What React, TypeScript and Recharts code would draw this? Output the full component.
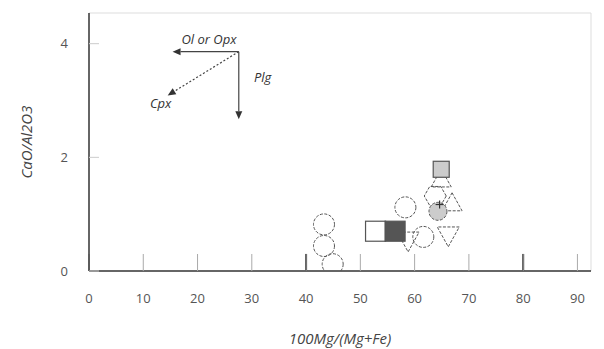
import { ScatterChart, Scatter, XAxis, YAxis, ReferenceLine, ReferenceDot } from 'recharts';

// marker groups: [100Mg/(Mg+Fe), CaO/Al2O3]
const openCircles = [
  { x: 43.3, y: 0.82 },
  { x: 43.3, y: 0.44 },
  { x: 44.9, y: 0.12 },
  { x: 58.3, y: 1.12 },
  { x: 61.6, y: 0.6 },
];
const openSquares = [{ x: 52.8, y: 0.7 }];
const darkSquares = [{ x: 56.4, y: 0.7 }];
const greySquares = [{ x: 64.9, y: 1.79 }];
const greyCircles = [{ x: 64.3, y: 1.05 }];
const openHexagons = [{ x: 63.8, y: 1.32 }];
const upTriangles = [
  { x: 66.9, y: 1.2 },
  { x: 64.9, y: 1.62 },
];
const downTriangles = [
  { x: 58.8, y: 0.53 },
  { x: 66.2, y: 0.62 },
];
const plusMarks = [{ x: 64.6, y: 1.17 }];

const xTicks = [0, 10, 20, 30, 40, 50, 60, 70, 80, 90];
const yTicks = [0, 2, 4];
const X_MAX = 92.5;
const Y_MAX = 4.54;

// vector diagram (origin + ends)
const vecOrigin = { x: 27.6, y: 3.86 };
const vecOlOpx = { x: 15.4, y: 3.86 };
const vecPlg = { x: 27.6, y: 2.67 };
const vecCpx = { x: 14.5, y: 3.09 };

const FONT = '"Open Sans", "Liberation Sans", sans-serif';
const INK = '#555';

const circle = (r: number, fill: string) => (p: any) =>
  <circle cx={p.cx} cy={p.cy} r={r} fill={fill} stroke={INK} strokeWidth={1} strokeDasharray="3 1.5" />;

const square = (s: number, fill: string) => (p: any) =>
  <rect x={p.cx - s / 2} y={p.cy - s / 2} width={s} height={s} fill={fill} stroke={INK} strokeWidth={1.2} />;

const triangle = (s: number, down: boolean) => (p: any) => {
  const d = down ? -1 : 1;
  const pts = `${p.cx},${p.cy - d * s} ${p.cx + s},${p.cy + d * s * 0.8} ${p.cx - s},${p.cy + d * s * 0.8}`;
  return <polygon points={pts} fill="none" stroke={INK} strokeWidth={1} strokeDasharray="3 1.5" />;
};

const hexagon = (p: any) => {
  const r = 11;
  const pts = [0, 1, 2, 3, 4, 5]
    .map((i) => {
      const a = (Math.PI / 3) * i;
      return `${p.cx + r * Math.cos(a)},${p.cy + r * Math.sin(a)}`;
    })
    .join(' ');
  return <polygon points={pts} fill="none" stroke={INK} strokeWidth={1} strokeDasharray="3 1.5" />;
};

const plus = (p: any) => (
  <g stroke="#333" strokeWidth={1.2}>
    <line x1={p.cx - 4} y1={p.cy} x2={p.cx + 4} y2={p.cy} />
    <line x1={p.cx} y1={p.cy - 4} x2={p.cx} y2={p.cy + 4} />
  </g>
);

const arrow = (dashed: boolean) => (p: any) => {
  const { x1, y1, x2, y2 } = p;
  const ang = Math.atan2(y2 - y1, x2 - x1);
  const L = 8;
  const W = 3.5;
  const bx = x2 - L * Math.cos(ang);
  const by = y2 - L * Math.sin(ang);
  const px = -Math.sin(ang) * W;
  const py = Math.cos(ang) * W;
  return (
    <g>
      <line x1={x1} y1={y1} x2={bx} y2={by} stroke="#444" strokeWidth={1.2} strokeDasharray={dashed ? '2 2' : undefined} />
      <polygon points={`${x2},${y2} ${bx + px},${by + py} ${bx - px},${by - py}`} fill="#333" />
    </g>
  );
};

const textLabel = (value: string) => ({
  value,
  position: 'center' as const,
  fill: '#333',
  fontSize: 13,
  fontStyle: 'italic',
  fontFamily: FONT,
});

export default function App() {
  return (
    <div style={{ position: 'absolute', left: 0, top: 0, background: '#fff' }}>
      <ScatterChart width={604} height={349} margin={{ top: 13, right: 13, bottom: 77, left: 88 }}>
        <XAxis
          type="number"
          dataKey="x"
          domain={[0, X_MAX]}
          ticks={xTicks}
          allowDataOverflow
          stroke="#333"
          tickSize={-17}
          tickMargin={40}
          tick={{ fill: '#555', fontSize: 13, fontFamily: FONT }}
          tickLine={{ stroke: '#aaa' }}
          axisLine={{ stroke: '#333', strokeWidth: 1.5 }}
          height={1}
          label={{ value: '100Mg/(Mg+Fe)', position: 'insideBottom', offset: -72, fill: '#444', fontSize: 15, fontStyle: 'italic', fontFamily: FONT }}
        />
        <YAxis
          type="number"
          dataKey="y"
          domain={[0, Y_MAX]}
          ticks={yTicks}
          allowDataOverflow
          tickSize={-10}
          tickMargin={31}
          tick={{ fill: '#555', fontSize: 13, fontFamily: FONT }}
          tickLine={{ stroke: '#ccc' }}
          axisLine={{ stroke: '#333', strokeWidth: 1.5 }}
          width={1}
          label={{ value: 'CaO/Al2O3', angle: -90, position: 'insideLeft', offset: -61, fill: '#444', fontSize: 15, fontStyle: 'italic', fontFamily: FONT, style: { textAnchor: 'middle' } }}
        />
        {/* faint frame */}
        <ReferenceLine y={Y_MAX} stroke="#ddd" />
        <ReferenceLine x={X_MAX} stroke="#ddd" />
        {/* darker ticks */}
        <ReferenceLine segment={[{ x: 40, y: 0 }, { x: 40, y: 0.3 }]} stroke="#222" strokeWidth={2} />
        <ReferenceLine segment={[{ x: 80, y: 0 }, { x: 80, y: 0.3 }]} stroke="#222" strokeWidth={2} />

        {/* vector diagram */}
        <ReferenceLine segment={[vecOrigin, vecOlOpx]} shape={arrow(false)} />
        <ReferenceLine segment={[vecOrigin, vecPlg]} shape={arrow(false)} />
        <ReferenceLine segment={[vecOrigin, vecCpx]} shape={arrow(true)} />
        <ReferenceDot x={22.1} y={4.07} r={0} fill="none" stroke="none" label={textLabel('Ol or Opx')} />
        <ReferenceDot x={32.0} y={3.4} r={0} fill="none" stroke="none" label={textLabel('Plg')} />
        <ReferenceDot x={13.2} y={2.95} r={0} fill="none" stroke="none" label={textLabel('Cpx')} />

        <Scatter data={openCircles} shape={circle(10.5, 'none')} isAnimationActive={false} />
        <Scatter data={downTriangles} shape={triangle(11, true)} isAnimationActive={false} />
        <Scatter data={openHexagons} shape={hexagon} isAnimationActive={false} />
        <Scatter data={upTriangles} shape={triangle(10, false)} isAnimationActive={false} />
        <Scatter data={greyCircles} shape={circle(9, '#ccc')} isAnimationActive={false} />
        <Scatter data={openSquares} shape={square(20, '#fff')} isAnimationActive={false} />
        <Scatter data={darkSquares} shape={square(20, '#555')} isAnimationActive={false} />
        <Scatter data={greySquares} shape={square(16, '#ccc')} isAnimationActive={false} />
        <Scatter data={plusMarks} shape={plus} isAnimationActive={false} />
      </ScatterChart>
    </div>
  );
}
